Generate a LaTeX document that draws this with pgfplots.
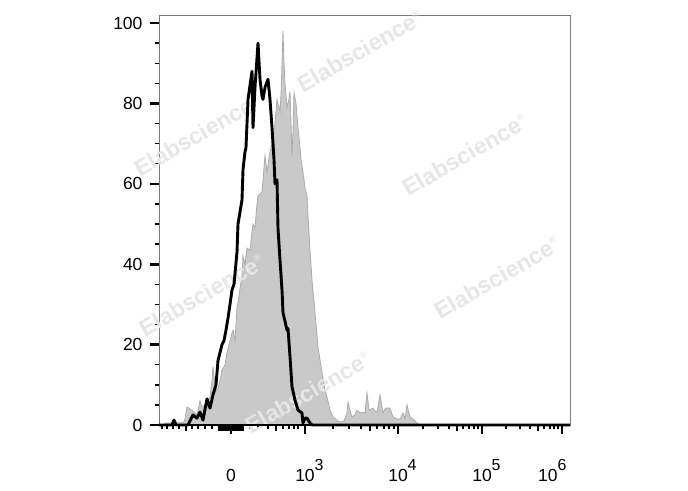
\documentclass[border=0pt]{standalone}
\usepackage{pgfplots}
\pgfplotsset{compat=1.18}
\usepackage{pgfplotstable}
\usepackage{fontspec}
\setmainfont{Liberation Sans}
\definecolor{fillgray}{HTML}{C9C9C9}
\definecolor{edgegray}{HTML}{ABABAB}
\definecolor{wm}{HTML}{E6E6E6}
\definecolor{spine}{HTML}{7A7A7A}

\pgfplotstableread{
x v
159 0
163 0
166 0.5
170 0.5
175 0.7
180 0.5
184 0.8
185 1.5
187 4.5
190 4
193 3.5
197 2.5
200 6
202 4.5
205 5
207 6
210 7
212 11
213 14.5
215 10
216 8.7
218 9
220 11
222 13.7
225 15
227 18
230 21
232 23
233 23.6
235 21
237 29
240 34
242 37
243 42
245 40
247 44
250 43.5
252 48
253 50
255 49
257 55
258 57
262 58
265 67
267 63
270 68
272 70
273 71
275 75
277 81
278 80
280 78
281 82
283 98
284 90
285 85
287 79
289 81
290 83
292 67
293 73
294 82.6
296 80
298 74
300 69
301 66
303 63
305 59
307 57
308 52
310 43.5
312 36
315 28
318 19.4
322 13
325 8.7
327 7
330 3.7
333 2
337 1.2
340 0.7
344 1
347 3
348 5.7
350 3.5
352 2
355 2.5
357 3.7
360 3
363 3.2
365 3
367 8
369 3.7
371 4
373 4.2
375 3.5
377 3.2
380 7.5
383 3
385 4
387 4.2
390 4.2
393 2
397 1.5
400 1.5
403 3
405 1.5
407 5
410 2
413 1.5
417 0.5
420 0
570 0
}\graydata

\pgfplotstableread{
x v
159 0
172 0
174 1.2
176 0
188 0
190 1.0
193 2.5
197 1.7
200 3.2
203 1.2
207 6.5
210 4.2
213 7.5
216 10
218 16
220 18
222 20
224 21
226 23.6
228 26.6
230 30
232 33.6
234 35
237 43
238 50
242 56
243 63.5
245 68
246 69
248 81
252 88
253 74
255 84
258 95
260 86
262 81.8
263 81
265 84
268 86
270 81
272 74
274 66
275 60
277 61
278 49
280 41
282 33.6
283 28
287 23.6
288 24
290 17
292 9.5
295 6.2
298 3.7
302 3
303 0.5
305 1.7
307 1.7
310 0.5
312 0
570 0
}\blackdata

\newcommand{\lb}{\fontsize{17.5}{21}\selectfont}
\newcommand{\supx}[1]{\rlap{\raisebox{11pt}{\fontsize{16}{16}\selectfont #1}}}
\newcommand{\wmark}{\fontsize{23}{23}\selectfont\bfseries Elabscience\raisebox{10pt}{\fontsize{9}{9}\selectfont ®}}

\begin{document}
\begin{tikzpicture}
\begin{axis}[
  scale only axis, width=411pt, height=410pt,
  xmin=159, xmax=570, ymin=0, ymax=102,
  clip=false,
  axis line style={draw=spine, line width=0.8pt},
  tick align=outside,
  xtick={231,305,398,482,562},
  xticklabels={{\lb 0}, {\lb 10\supx{3}}, {\lb 10\supx{4}}, {\lb 10\supx{5}}, {\lb\llap{10\supx{6}\kern4.5pt}}},
  minor xtick={162,167,173,179,192,198,205,212,250,258,268,283,289,294,298,
    333,349,361,377,384,389,394,423,438,449,463,469,474,478,506,520,530,544,550,554,558},
  extra x ticks={186,276,370,457,538,219,221,223,225,227,229,233,235,237,239,241,243},
  extra x tick labels={},
  extra x tick style={major tick length=5.5pt, tick style={line width=1.6pt, black}},
  ytick={0,20,40,60,80,100},
  yticklabels={{\lb 0},{\lb 20},{\lb 40},{\lb 60},{\lb 80},{\lb 100}},
  minor ytick={5,10,15,25,30,35,45,50,55,65,70,75,85,90,95},
  major tick length=9pt, minor tick length=4pt,
  every major tick/.append style={line width=2.6pt, black},
  every minor tick/.append style={line width=1.4pt, black},
  xtick pos=bottom, ytick pos=left,
  xticklabel style={anchor=base, yshift=-47pt},
  yticklabel style={anchor=east, xshift=-4pt},
]
\addplot[fill=fillgray, draw=edgegray, line width=0.8pt, sharp plot] table[x=x,y=v] {\graydata} \closedcycle;
\node[wm, rotate=30] at (axis cs:197,72.1) {\wmark};
\node[wm, rotate=30] at (axis cs:360,93) {\wmark};
\node[wm, rotate=30] at (axis cs:465,67.2) {\wmark};
\node[wm, rotate=30] at (axis cs:202,32.3) {\wmark};
\node[wm, rotate=30] at (axis cs:497,36.6) {\wmark};
\node[wm, rotate=30] at (axis cs:308,8) {\wmark};
\addplot[black, line width=2.9pt, sharp plot, line join=round] table[x=x,y=v] {\blackdata};
\addplot[black, line width=2.4pt] coordinates {(159,0) (570,0)};
\coordinate (sw) at (rel axis cs:0,0);
\end{axis}
\path (sw) ++(-159pt,-65pt) rectangle ++(688pt,490pt);
\end{tikzpicture}
\end{document}
